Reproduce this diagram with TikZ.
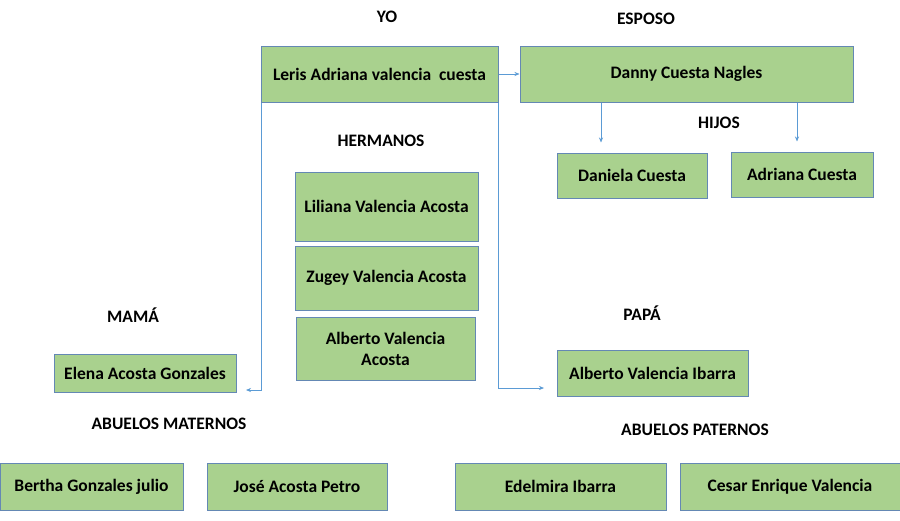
\documentclass[tikz,border=0pt]{standalone}
\usepackage{fontspec}
\setmainfont{Carlito}
\usepackage{xcolor}
\usetikzlibrary{positioning, arrows.meta}

\definecolor{boxfill}{HTML}{A9D18E}
\definecolor{boxline}{HTML}{6488B4}
\definecolor{linkblue}{HTML}{5B9BD5}

\begin{document}
\begin{tikzpicture}[x=1pt, y=-1pt,
  box/.style={draw=boxline, fill=boxfill, line width=1pt, inner sep=0pt, align=center, font=\fontsize{17.5}{21}\selectfont\bfseries},
  lbl/.style={font=\fontsize{17.5}{21}\selectfont\bfseries},
  conn/.style={draw=linkblue, line width=0.6pt, -{Stealth[length=5pt, width=4pt]}}]

\useasboundingbox[fill=white] (0,0) rectangle (900,520);

% titulos
\node[lbl] (yo) at (387,17) {YO};
\node[lbl] (esposo) at (646,19) {ESPOSO};
\node[lbl] (hijos) at (719,123) {HIJOS};
\node[lbl] (hermanos) at (381,141) {HERMANOS};
\node[lbl] (mama) at (133,315) {MAMÁ};
\node[lbl] (papa) at (642,313) {PAPÁ};
\node[lbl] (abmat) at (169,424) {ABUELOS MATERNOS};
\node[lbl] (abpat) at (695,430) {ABUELOS PATERNOS};

% personas
\node[box, minimum width=237pt, minimum height=56pt] (leris) at (379.5,74) {Leris Adriana valencia\ \ cuesta};
\node[box, minimum width=333pt, minimum height=56pt] (danny) at (686.5,74) {Danny Cuesta Nagles};
\node[box, minimum width=150pt, minimum height=45pt] (daniela) at (632,175.5) {Daniela Cuesta};
\node[box, minimum width=142pt, minimum height=45pt] (adriana) at (802,174.5) {Adriana Cuesta};
\node[box, minimum width=183pt, minimum height=69pt] (liliana) at (386.5,206.5) {Liliana Valencia Acosta};
\node[box, minimum width=183pt, minimum height=64pt] (zugey) at (386.5,278) {Zugey Valencia Acosta};
\node[box, minimum width=179pt, minimum height=63pt] (albertoa) at (385.5,348.5) {Alberto Valencia\\Acosta};
\node[box, minimum width=182pt, minimum height=38pt] (elena) at (145,373) {Elena Acosta Gonzales};
\node[box, minimum width=191pt, minimum height=46pt] (albertoi) at (652.5,373) {Alberto Valencia Ibarra};
\node[box, minimum width=183pt, minimum height=47pt] (bertha) at (91.5,486.5) {Bertha Gonzales julio};
\node[box, minimum width=180pt, minimum height=47pt] (jose) at (297,486.5) {José Acosta Petro};
\node[box, minimum width=211pt, minimum height=47pt] (edelmira) at (560.5,486.5) {Edelmira Ibarra};
\node[box, minimum width=220pt, minimum height=47pt] (cesar) at (790,486.5) {Cesar Enrique Valencia};

% flechas
\coordinate (danielatop) at ([xshift=-31pt]daniela.north);
\coordinate (adrianatop) at ([xshift=-5pt]adriana.north);
\coordinate (mamaend) at (246,390);
\coordinate (papaend) at (544,388);

\draw[conn] (leris) -- (danny);
\draw[conn, shorten >=10pt] (danny.south -| danielatop) -- (danielatop);
\draw[conn, shorten >=10pt] (danny.south -| adrianatop) -- (adrianatop);
\draw[conn] ([xshift=1pt]leris.south west) |- (mamaend);
\draw[conn] (leris.south east) |- (papaend);

\end{tikzpicture}
\end{document}
